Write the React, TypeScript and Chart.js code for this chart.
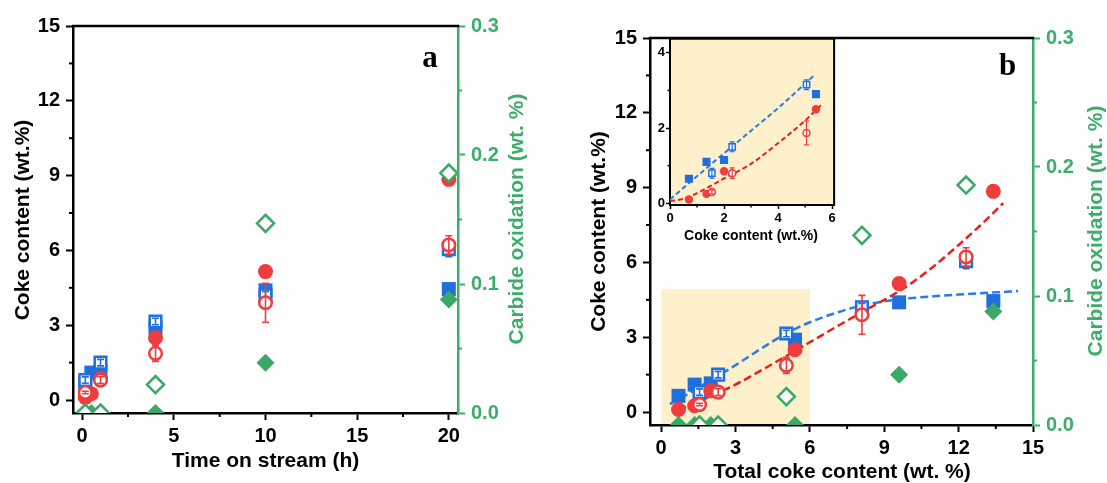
import React, { useEffect, useRef } from 'react';
import { Chart, registerables } from 'chart.js';
Chart.register(...registerables);

const FONT = '"Liberation Sans", Arial, Helvetica, sans-serif';
const SERIF = '"Liberation Serif", "Times New Roman", serif';

const BLUE = '#1f6fdf';
const RED = '#f03c3c';
const GREEN = '#3aa866';
const GREEN_AXIS = '#3cae6a';
const RED_LINE = '#ee1b1b';
const BLUE_LINE = '#2b7ce0';
const YELLOW = '#fdf0cb';

// ---------- data ----------
// panel a: time on stream (h)
const timeFilled = [0.17, 0.5, 1, 4, 10, 20];
const timeOpen = [0.17, 1, 4, 10, 20];
// panel b: total coke content (wt. %)
const totalFilled = [0.7, 1.35, 2.0, 5.4, 9.6, 13.4];
const totalOpen = [1.55, 2.3, 5.05, 8.1, 12.3];

const blueFilled = [0.65, 1.1, 1.15, 2.9, 4.4, 4.45];
const redFilled = [0.1, 0.25, 0.85, 2.5, 5.15, 8.85];
const blueOpen = [0.8, 1.5, 3.15, 4.2, 6.05];
const blueOpenErr = [0.13, 0.13, 0.13, 0.15, 0.3];
const redOpen = [0.3, 0.8, 1.87, 3.9, 6.22];
const redOpenErr = [0.05, 0.14, 0.32, 0.78, 0.37];
const greenOpen = [0, 0, 0.022, 0.147, 0.186];
const greenFilled = [0, 0, 0, 0, 0.039, 0.088];

// fitted dashed curves
const blueFitX = [0.35, 1, 2, 3, 4, 5, 6, 7, 8, 9, 10, 11, 12, 13, 14.4];
const blueFitY = [0.32, 0.68, 1.27, 1.88, 2.52, 3.13, 3.6, 3.96, 4.25, 4.44, 4.56, 4.64, 4.71, 4.77, 4.85];
const redFitX = [0.7, 1.5, 2.36, 3, 4, 5, 6, 7, 8, 9, 10, 11, 12, 13, 13.8];
const redFitY = [0.1, 0.42, 0.8, 1.1, 1.65, 2.22, 2.8, 3.38, 3.95, 4.5, 5.1, 5.85, 6.7, 7.6, 8.38];
const insetBlueFitX = [0, 1, 2, 3, 4, 5.3];
const insetBlueFitY = [0.1, 0.72, 1.33, 1.93, 2.53, 3.38];
const insetRedFitX = [0, 0.5, 1, 1.5, 2, 3, 4, 5, 5.65];
const insetRedFitY = [0.06, 0.12, 0.27, 0.46, 0.66, 1.05, 1.6, 2.2, 2.65];

// ticks
const ticksTime = [0, 5, 10, 15, 20];
const minorTime = [2.5, 7.5, 12.5, 17.5];
const ticksCoke = [0, 3, 6, 9, 12, 15];
const minorCoke = [1.5, 4.5, 7.5, 10.5, 13.5];
const ticksCarb = [0, 0.1, 0.2, 0.3];
const minorCarb = [0.05, 0.15, 0.25];
const ticksTotal = [0, 3, 6, 9, 12, 15];
const minorTotal = [1.5, 4.5, 7.5, 10.5, 13.5];
const ticksInsetX = [0, 2, 4, 6];
const minorInsetX = [1, 3, 5];
const ticksInsetY = [0, 2, 4];
const minorInsetY = [1, 3];
const highlightX = [0, 6];
const highlightTop = 4.93;

const titleCoke = 'Coke content (wt.%)';
const titleCarb = 'Carbide oxidation (wt. %)';
const titleTime = 'Time on stream (h)';
const titleTotal = 'Total coke content (wt. %)';
const titleInset = 'Coke content (wt.%)';

// ---------- helpers ----------
const pts = (xs: number[], ys: number[]) => xs.map((x, i) => ({ x, y: ys[i] }));

function axis(o: any) {
  const horizontal = o.pos === 'bottom';
  return {
    type: 'linear',
    position: o.pos,
    min: o.min,
    max: o.max,
    afterBuildTicks: (s: any) => { s.ticks = o.ticks.map((v: number) => ({ value: v })); },
    afterFit: (s: any) => { if (horizontal) s.height = o.size; else s.width = o.size; },
    ticks: {
      callback: (v: any) => o.fmt(Number(v)),
      color: o.color,
      font: { family: FONT, size: o.font, weight: 'bold', lineHeight: 1.2 },
      padding: o.pad,
      autoSkip: false,
      maxRotation: 0,
    },
    grid: { display: true, drawOnChartArea: false, drawTicks: true, tickLength: o.tickLen, tickWidth: o.tw, tickColor: o.color },
    border: { display: true, color: o.color, width: o.bw },
  };
}

function minorTicks(list: any[]) {
  return {
    id: 'minorTicks',
    afterDraw(chart: any) {
      const ctx = chart.ctx;
      list.forEach((a) => {
        const s = chart.scales[a.id];
        ctx.save();
        ctx.strokeStyle = a.color;
        ctx.lineWidth = a.width;
        a.values.forEach((v: number) => {
          const p = s.getPixelForValue(v);
          ctx.beginPath();
          if (s.position === 'left') { ctx.moveTo(s.right, p); ctx.lineTo(s.right - a.len, p); }
          else if (s.position === 'right') { ctx.moveTo(s.left, p); ctx.lineTo(s.left + a.len, p); }
          else { ctx.moveTo(p, s.top); ctx.lineTo(p, s.top + a.len); }
          ctx.stroke();
        });
        ctx.restore();
      });
    },
  };
}

function frame(sides: string[], width: number) {
  return {
    id: 'frame',
    afterDraw(chart: any) {
      const { left, right, top, bottom } = chart.chartArea;
      const ctx = chart.ctx;
      ctx.save();
      ctx.strokeStyle = '#000';
      ctx.lineWidth = width;
      ctx.beginPath();
      if (sides.includes('top')) { ctx.moveTo(left - width / 2, top); ctx.lineTo(right + width / 2, top); }
      if (sides.includes('right')) { ctx.moveTo(right, top); ctx.lineTo(right, bottom + width / 2); }
      ctx.stroke();
      ctx.restore();
    },
  };
}

function texts(items: any[]) {
  return {
    id: 'texts',
    afterDraw(chart: any) {
      const ctx = chart.ctx;
      items.forEach((t) => {
        ctx.save();
        ctx.font = t.font;
        ctx.fillStyle = t.color;
        ctx.textAlign = 'center';
        ctx.textBaseline = 'alphabetic';
        ctx.translate(t.x, t.y);
        if (t.rot) ctx.rotate(t.rot);
        ctx.fillText(t.text, 0, 0);
        ctx.restore();
      });
    },
  };
}

function areaFill(getRect: (chart: any) => number[]) {
  return {
    id: 'areaFill',
    beforeDraw(chart: any) {
      const [x0, y0, x1, y1] = getRect(chart);
      const ctx = chart.ctx;
      ctx.save();
      ctx.fillStyle = YELLOW;
      ctx.fillRect(x0, y0, x1 - x0, y1 - y0);
      ctx.restore();
    },
  };
}

const errorBars = {
  id: 'errorBars',
  afterDatasetDraw(chart: any, args: any) {
    const ds = chart.data.datasets[args.index];
    if (!ds.errors) return;
    const meta = args.meta;
    const ys = chart.scales[meta.yAxisID];
    const ctx = chart.ctx;
    const a = chart.chartArea;
    ctx.save();
    ctx.beginPath();
    ctx.rect(a.left, a.top, a.right - a.left, a.bottom - a.top);
    ctx.clip();
    ctx.strokeStyle = ds.errorColor;
    ctx.lineWidth = ds.errorWidth;
    meta.data.forEach((el: any, i: number) => {
      const v = ds.data[i].y;
      const e = ds.errors[i];
      const x = el.x;
      const y1 = ys.getPixelForValue(v + e);
      const y2 = ys.getPixelForValue(v - e);
      const c = ds.errorCap;
      ctx.beginPath();
      ctx.moveTo(x, y1); ctx.lineTo(x, y2);
      ctx.moveTo(x - c, y1); ctx.lineTo(x + c, y1);
      ctx.moveTo(x - c, y2); ctx.lineTo(x + c, y2);
      ctx.stroke();
    });
    ctx.restore();
  },
};

const MAIN = { sqF: 9.9, sqO: 8.2, sqOB: 2.5, cF: 7.5, cO: 6.3, cOB: 2.5, dO: 8.5, dOB: 2.5, dF: 9, errW: 1.6, cap: 3.5, line: 2.5, dash: [8, 4] };
const INSET = { sqF: 5.7, sqO: 4.4, sqOB: 1.5, cF: 4.2, cO: 3.5, cOB: 1.5, dO: 5, dOB: 1.5, dF: 5, errW: 1.2, cap: 2.5, line: 2, dash: [5, 3] };

function pointSet(label: string, data: any[], style: string, r: number, fill: string, border: string, bw: number, yAxisID = 'y', extra: any = {}) {
  return {
    label, data, yAxisID, showLine: false, clip: 0,
    pointStyle: style, pointRadius: r, pointBackgroundColor: fill, pointBorderColor: border, pointBorderWidth: bw,
    ...extra,
  };
}

function fitSet(label: string, data: any[], color: string, s: any) {
  return {
    label, data, yAxisID: 'y', showLine: true, clip: 0, pointRadius: 0,
    borderColor: color, borderWidth: s.line, borderDash: s.dash, tension: 0.4, cubicInterpolationMode: 'monotone', fill: false,
  };
}

function markerSets(xf: number[], xo: number[], s: any, withGreen: boolean) {
  const sets: any[] = [];
  if (withGreen) {
    sets.push(pointSet('greenOpen', pts(xo, greenOpen), 'rectRot', s.dO, '#fff', GREEN, s.dOB, 'y2'));
    sets.push(pointSet('greenFilled', pts(xf, greenFilled), 'rectRot', s.dF, GREEN, GREEN, 0, 'y2'));
  }
  sets.push(pointSet('redOpen', pts(xo, redOpen), 'circle', s.cO, '#fff', RED, s.cOB, 'y',
    { errors: redOpenErr, errorColor: RED, errorWidth: s.errW, errorCap: s.cap }));
  sets.push(pointSet('redFilled', pts(xf, redFilled), 'circle', s.cF, RED, RED, 0));
  sets.push(pointSet('blueOpen', pts(xo, blueOpen), 'rect', s.sqO, '#fff', BLUE, s.sqOB, 'y',
    { errors: blueOpenErr, errorColor: BLUE, errorWidth: s.errW, errorCap: s.cap }));
  sets.push(pointSet('blueFilled', pts(xf, blueFilled), 'rect', s.sqF, BLUE, BLUE, 0));
  return sets;
}

const fmtInt = (v: number) => String(Math.round(v));
const fmt1 = (v: number) => v.toFixed(1);

function baseOptions(padding: any, scales: any) {
  return {
    responsive: false,
    animation: false,
    devicePixelRatio: 1,
    events: [],
    layout: { padding },
    plugins: { legend: { display: false }, tooltip: { enabled: false }, title: { display: false } },
    scales,
  };
}

function configA(): any {
  return {
    type: 'scatter',
    data: { datasets: markerSets(timeFilled, timeOpen, MAIN, true) },
    options: baseOptions({ top: 26, left: 0, right: 0, bottom: 0 }, {
      x: axis({ pos: 'bottom', min: -0.5, max: 20.5, ticks: ticksTime, size: 70, fmt: fmtInt, color: '#000', font: 20, pad: 4, tickLen: 7, tw: 2, bw: 2.5 }),
      y: axis({ pos: 'left', min: -0.52, max: 15, ticks: ticksCoke, size: 73, fmt: fmtInt, color: '#000', font: 20, pad: 6, tickLen: 7, tw: 2, bw: 2.5 }),
      y2: axis({ pos: 'right', min: 0, max: 0.3, ticks: ticksCarb, size: 95, fmt: fmt1, color: GREEN_AXIS, font: 20, pad: 6, tickLen: 7, tw: 2, bw: 2.5 }),
    }),
    plugins: [
      errorBars,
      minorTicks([
        { id: 'x', values: minorTime, len: 4, color: '#000', width: 2 },
        { id: 'y', values: minorCoke, len: 4, color: '#000', width: 2 },
        { id: 'y2', values: minorCarb, len: 4, color: GREEN_AXIS, width: 2 },
      ]),
      frame(['top'], 2.5),
      texts([
        { text: titleCoke, x: 28.5, y: 220, rot: -Math.PI / 2, font: `bold 21px ${FONT}`, color: '#000' },
        { text: titleCarb, x: 523, y: 219, rot: -Math.PI / 2, font: `bold 21px ${FONT}`, color: GREEN_AXIS },
        { text: titleTime, x: 265.5, y: 467, font: `bold 21px ${FONT}`, color: '#000' },
        { text: 'a', x: 430, y: 67, font: `bold 31px ${SERIF}`, color: '#000' },
      ]),
    ],
  };
}

function configB(): any {
  return {
    type: 'scatter',
    data: {
      datasets: [
        ...markerSets(totalFilled, totalOpen, MAIN, true),
        fitSet('redFit', pts(redFitX, redFitY), RED_LINE, MAIN),
        fitSet('blueFit', pts(blueFitX, blueFitY), BLUE_LINE, MAIN),
      ],
    },
    options: baseOptions({ top: 38, left: 0, right: 0, bottom: 0 }, {
      x: axis({ pos: 'bottom', min: -0.45, max: 15, ticks: ticksTotal, size: 58, fmt: fmtInt, color: '#000', font: 20, pad: 4, tickLen: 7, tw: 2, bw: 2.5 }),
      y: axis({ pos: 'left', min: -0.52, max: 15, ticks: ticksCoke, size: 97, fmt: fmtInt, color: '#000', font: 20, pad: 6, tickLen: 7, tw: 2, bw: 2.5 }),
      y2: axis({ pos: 'right', min: 0, max: 0.3, ticks: ticksCarb, size: 74, fmt: fmt1, color: GREEN_AXIS, font: 20, pad: 6, tickLen: 7, tw: 2, bw: 2.5 }),
    }),
    plugins: [
      areaFill((c) => {
        const xs = c.scales.x, ys = c.scales.y;
        return [xs.getPixelForValue(highlightX[0]), ys.getPixelForValue(highlightTop), xs.getPixelForValue(highlightX[1]), c.chartArea.bottom];
      }),
      errorBars,
      minorTicks([
        { id: 'x', values: minorTotal, len: 4, color: '#000', width: 2 },
        { id: 'y', values: minorCoke, len: 4, color: '#000', width: 2 },
        { id: 'y2', values: minorCarb, len: 4, color: GREEN_AXIS, width: 2 },
      ]),
      frame(['top'], 2.5),
      texts([
        { text: titleCoke, x: 52.3, y: 231.5, rot: -Math.PI / 2, font: `bold 21px ${FONT}`, color: '#000' },
        { text: titleCarb, x: 549.3, y: 231, rot: -Math.PI / 2, font: `bold 21px ${FONT}`, color: GREEN_AXIS },
        { text: titleTotal, x: 289, y: 478, font: `bold 21px ${FONT}`, color: '#000' },
        { text: 'b', x: 454.5, y: 75, font: `bold 31px ${SERIF}`, color: '#000' },
      ]),
    ],
  };
}

function configInset(): any {
  return {
    type: 'scatter',
    data: {
      datasets: [
        ...markerSets(totalFilled, totalOpen, INSET, false),
        fitSet('redFitInset', pts(insetRedFitX, insetRedFitY), RED_LINE, INSET),
        fitSet('blueFitInset', pts(insetBlueFitX, insetBlueFitY), BLUE_LINE, INSET),
      ],
    },
    options: baseOptions({ top: 7, left: 0, right: 5, bottom: 0 }, {
      x: axis({ pos: 'bottom', min: 0, max: 6.07, ticks: ticksInsetX, size: 50, fmt: fmtInt, color: '#000', font: 13, pad: 2, tickLen: 4, tw: 1.5, bw: 2 }),
      y: axis({ pos: 'left', min: -0.045, max: 4.37, ticks: ticksInsetY, size: 20, fmt: fmtInt, color: '#000', font: 13, pad: 1, tickLen: 4, tw: 1.5, bw: 2 }),
    }),
    plugins: [
      areaFill((c) => [c.chartArea.left, c.chartArea.top, c.chartArea.right, c.chartArea.bottom]),
      errorBars,
      minorTicks([
        { id: 'x', values: minorInsetX, len: 2.5, color: '#000', width: 1.5 },
        { id: 'y', values: minorInsetY, len: 2.5, color: '#000', width: 1.5 },
      ]),
      frame(['top', 'right'], 2),
      texts([
        { text: titleInset, x: 101, y: 210, font: `bold 14px ${FONT}`, color: '#000' },
      ]),
    ],
  };
}

export default function App() {
  const aRef = useRef<HTMLCanvasElement>(null);
  const bRef = useRef<HTMLCanvasElement>(null);
  const iRef = useRef<HTMLCanvasElement>(null);
  useEffect(() => {
    const charts = [
      new Chart(aRef.current as HTMLCanvasElement, configA()),
      new Chart(bRef.current as HTMLCanvasElement, configB()),
      new Chart(iRef.current as HTMLCanvasElement, configInset()),
    ];
    return () => charts.forEach((c) => c.destroy());
  }, []);
  return (
    <div style={{ position: 'absolute', left: 0, top: 0, width: 1107, height: 483, background: '#fff', overflow: 'hidden' }}>
      <canvas ref={aRef} width={553} height={483} style={{ position: 'absolute', left: 0, top: 0, width: 553, height: 483 }} />
      <canvas ref={bRef} width={554} height={483} style={{ position: 'absolute', left: 553, top: 0, width: 554, height: 483 }} />
      <canvas ref={iRef} width={190} height={225} style={{ position: 'absolute', left: 650, top: 30, width: 190, height: 225 }} />
    </div>
  );
}
